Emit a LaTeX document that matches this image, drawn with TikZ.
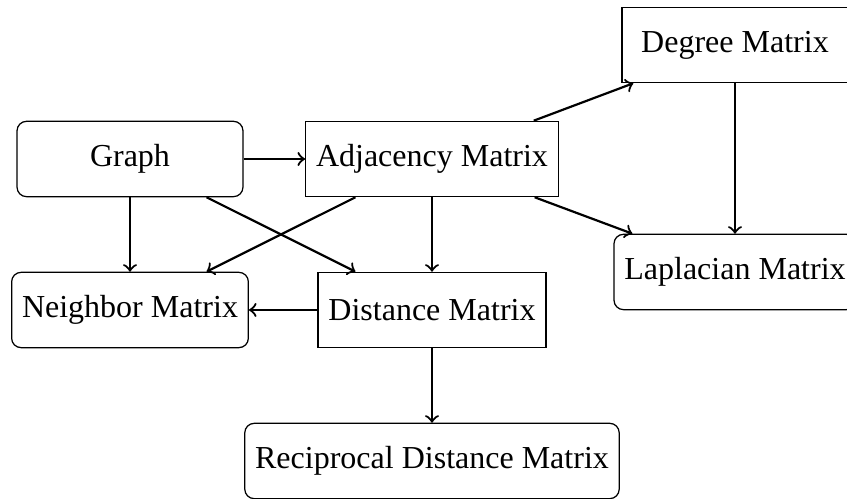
\documentclass[tikz,border=0pt]{standalone}
\usepackage{fontspec}
\setmainfont{Liberation Serif}
\begin{document}
\begin{tikzpicture}[x=0.3187pt,y=-0.3187pt,
  box/.style={draw, line width=0.4pt, minimum width=72pt, minimum height=24pt,
    inner xsep=3.3pt, font=\fontsize{10.2}{12}\selectfont},
  sharpbox/.style={box},
  roundbox/.style={box, rounded corners=3pt},
  link/.style={->, line width=0.7pt}]
\useasboundingbox (0,0) rectangle (847,499);

\node[roundbox] (graph) at (130,159) {Graph};
\node[sharpbox] (adj) at (432,159) {Adjacency Matrix};
\node[sharpbox] (deg) at (735,45) {Degree Matrix};
\node[roundbox] (lap) at (735,272) {Laplacian Matrix};
\node[roundbox] (nbr) at (130,310) {Neighbor Matrix};
\node[sharpbox] (dist) at (432,310) {Distance Matrix};
\node[roundbox] (recip) at (432,461) {Reciprocal Distance Matrix};

\draw[link] (graph) -- (adj);
\draw[link] (graph) -- (nbr);
\draw[link] (graph) -- (dist);
\draw[link] (adj) -- (nbr);
\draw[link] (adj) -- (dist);
\draw[link] (adj) -- (deg);
\draw[link] (adj) -- (lap);
\draw[link] (deg) -- (lap);
\draw[link] (dist) -- (nbr);
\draw[link] (dist) -- (recip);
\end{tikzpicture}
\end{document}
